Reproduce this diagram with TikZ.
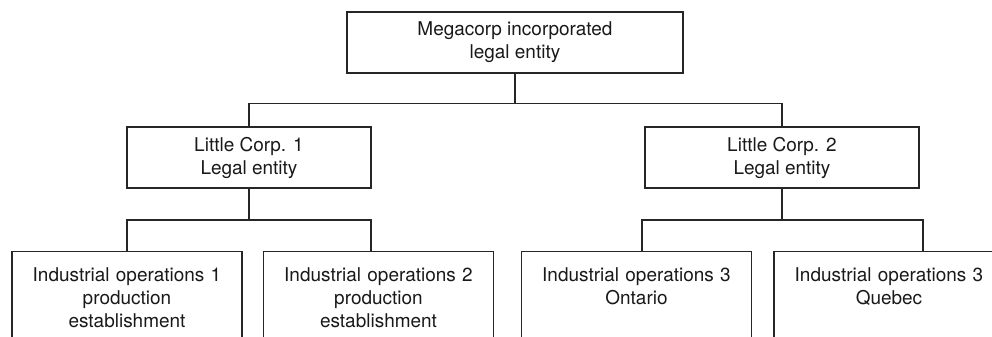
\documentclass[tikz,border=0pt]{standalone}
\usepackage{fontspec}
\setmainfont{TeX Gyre Heros}
\tikzset{
  entity/.style={draw=black!85,line width=0.7pt,inner sep=0pt,align=center,minimum height=1.22cm},
  opbox/.style={draw=black!85,line width=0.7pt,anchor=north,text width=4.6cm,align=center,
    inner xsep=0pt,inner ysep=7.1pt,text height=10pt,text depth=80pt},
  link/.style={draw=black!85,line width=0.7pt}
}
\begin{document}
\begin{tikzpicture}[x=0.02cm,y=-0.02cm,font=\fontsize{10.8}{13.1}\selectfont,text=black!90]
  \useasboundingbox (0,0) rectangle (992,337);
  \clip (0,0) rectangle (992,337);
  % legal entities
  \node[entity,minimum width=6.72cm] (mega) at (515,42.5) {Megacorp incorporated\\legal entity};
  \node[entity,minimum width=4.88cm] (lc1) at (249,157.5) {Little Corp. 1\\Legal entity};
  \node[entity,minimum width=5.48cm] (lc2) at (782,157.5) {Little Corp. 2\\Legal entity};
  % operations
  \node[opbox] (op1) at (127,251) {Industrial operations 1\\production\\establishment};
  \node[opbox] (op2) at (378.5,251) {Industrial operations 2\\production\\establishment};
  \node[opbox] (op3) at (636.5,251) {Industrial operations 3\\Ontario};
  \node[opbox] (op4) at (889,251) {Industrial operations 3\\Quebec};
  % buses
  \coordinate (b0) at (515,103.5);
  \coordinate (b1) at (249,220);\coordinate (l1) at (127,220);\coordinate (r1) at (371,220);
  \coordinate (b2) at (782,220);\coordinate (l2) at (642,220);\coordinate (r2) at (923,220);
  \draw[link] (mega.south) -- (b0) (lc1.north) |- (b0) -| (lc2.north);
  \draw[link] (lc1.south) -- (b1) (l1 |- op1.north) -- (l1) -- (r1) -- (r1 |- op2.north);
  \draw[link] (lc2.south) -- (b2) (l2 |- op3.north) -- (l2) -- (r2) -- (r2 |- op4.north);
\end{tikzpicture}
\end{document}
